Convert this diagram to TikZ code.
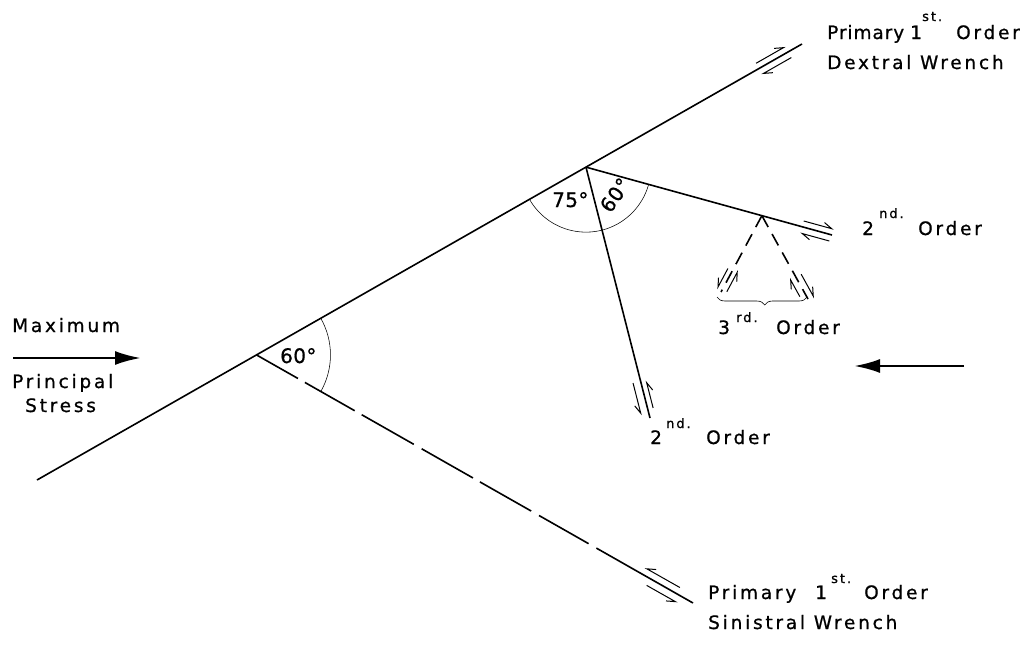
\documentclass[tikz,border=0pt]{standalone}
\usepackage{fontspec}
\newfontfamily\lab{DejaVu Sans}[LetterSpace=15,FakeBold=0.8]
\newfontfamily\labt{DejaVu Sans}[LetterSpace=5,FakeBold=0.8]
\newfontfamily\labn{DejaVu Sans}[LetterSpace=2,FakeBold=0.8]
\usetikzlibrary{calc,arrows.meta,decorations.pathreplacing}
\newcommand\halfarr[5]{% #1 end, #2 rotation, #3 s tail, #4 s tip, #5 t (right of travel)
  \begin{scope}[shift={(#1)}, rotate=#2]
    \pgfmathsetmacro\hbs{#4+8.5*sign(#3-#4)}
    \pgfmathsetmacro\hty{-1*(#5)}
    \pgfmathsetmacro\hbt{-1*(#5)-4*sign(#5)}
    \draw[harp] (#3,\hty) -- (#4,\hty) -- (\hbs,\hbt);
  \end{scope}}
\begin{document}
\begin{tikzpicture}[x=1pt,y=1pt,
  fault/.style={line width=1.6pt},
  harp/.style={line width=1pt, line join=miter},
  anglearc/.style={line width=0.55pt},
  lbl/.style={inner sep=0pt, anchor=base west, font=\lab\fontsize{18.5}{20}\selectfont},
  lblt/.style={inner sep=0pt, anchor=base west, font=\labt\fontsize{18.5}{20}\selectfont},
  sup/.style={inner sep=0pt, anchor=base west, font=\lab\fontsize{13}{14}\selectfont},
  ang/.style={inner sep=0pt, font=\labn\fontsize{20}{21}\selectfont},
  stressarrow/.style={line width=2.6pt, -{Latex[length=26pt,width=14pt]}},
  bracestyle/.style={line width=0.6pt, decorate, decoration={brace, mirror, amplitude=8pt, aspect=0.53}},
]
\useasboundingbox (0,0) rectangle (1034,-645);
% points
\coordinate (S) at (37,-480);
\coordinate (E1) at (802,-44);
\coordinate (J1) at ($(S)!0.7176!(E1)$);
\coordinate (J2) at ($(S)!0.2869!(E1)$);
\coordinate (E2) at (693,-603);
\coordinate (E3) at (650,-418);
\coordinate (E4) at (832,-235);
\coordinate (A) at ($(J1)!0.715!(E4)$);
\coordinate (E5) at (721,-292);
\coordinate (E6) at (808,-299);
% primary dextral
\draw[fault] (S) -- (E1);
% primary sinistral (long dashes)
\foreach \a/\b in {0/47.7, 55.7/113, 121/181, 190/249, 257/316, 325/382}
  \draw[fault] ($(J2)!\a pt!(E2)$) -- ($(J2)!\b pt!(E2)$);
\draw[fault] ($(J2)!391pt!(E2)$) -- (E2);
% second order
\draw[fault] (J1) -- (E3);
\draw[fault] (J1) -- (E4);
% third order
\draw[fault, dash pattern=on 13pt off 8pt] (A) -- (E5);
\draw[fault, dash pattern=on 13pt off 8pt] (A) -- (E6);
% angle arcs
\draw[anglearc] ($(J1)+(209.7:65)$) arc[start angle=209.7, end angle=344.6, radius=65];
\draw[anglearc] ($(J2)+(29.7:74)$) arc[start angle=29.7, end angle=-29.5, radius=74];
% slip sense half arrows
\halfarr{E1}{29.68}{-49.5}{-17.9}{-6}
\halfarr{E1}{29.68}{-16}{-48}{6.5}
\halfarr{E2}{-29.52}{-19}{-57}{-7}
\halfarr{E2}{-29.52}{-49}{-16}{7.5}
\halfarr{E4}{-15.4}{-31}{-2}{-6}
\halfarr{E4}{-15.4}{-1}{-29}{6.5}
\halfarr{E3}{-75.7}{-38}{-7}{7.8}
\halfarr{E3}{-75.7}{-9}{-35}{-5.5}
\halfarr{E5}{-118.2}{-24}{-3}{5}
\halfarr{E5}{-118.2}{-3}{-25}{-5}
\halfarr{E6}{-61.1}{-6}{-25}{6}
\halfarr{E6}{-61.1}{-25}{0}{-6}
% brace
\coordinate (B1) at (717,-297);
\coordinate (B2) at (807,-297);
\draw[bracestyle] (B1) -- (B2);
% stress arrows
\coordinate (L1) at (13,-358);
\coordinate (L2) at (141,-358);
\draw[stressarrow] (L1) -- (L2);
\coordinate (R1) at (964,-366);
\coordinate (R2) at (854,-366);
\draw[stressarrow] (R1) -- (R2);
% angle labels
\node[ang, anchor=base west] (a75) at (552,-207) {75°};
\node[ang, rotate=55] (a60a) at (615,-195) {60°};
\node[ang, anchor=base west] (a60b) at (280,-363) {60°};
% texts
\node[lblt] (t1a) at (827,-39) {Primary};
\node[lbl] (t1n) at (910,-39) {1};
\node[sup] (t1b) at (922,-21) {st.};
\node[lbl] (t1c) at (956,-39) {Order};
\node[lbl] (t1d) at (827,-69) {Dextral Wrench};
\node[lbl] (t2a) at (862,-235) {2};
\node[sup] (t2b) at (879,-218) {nd.};
\node[lbl] (t2c) at (918,-235) {Order};
\node[lbl] (t3a) at (718,-334) {3};
\node[sup] (t3b) at (736,-322) {rd.};
\node[lbl] (t3c) at (776,-334) {Order};
\node[lbl] (t4a) at (650,-444) {2};
\node[sup] (t4b) at (666,-428) {nd.};
\node[lbl] (t4c) at (706,-444) {Order};
\node[lbl] (t5a) at (708,-599) {Primary};
\node[lbl] (t5n) at (815,-599) {1};
\node[sup] (t5b) at (831,-583) {st.};
\node[lbl] (t5c) at (864,-599) {Order};
\node[lbl] (t5d) at (708,-629) {Sinistral Wrench};
\node[lbl] (m1) at (12,-332) {Maximum};
\node[lbl] (m2) at (12,-388) {Principal};
\node[lbl] (m3) at (25,-412) {Stress};
\end{tikzpicture}
\end{document}
